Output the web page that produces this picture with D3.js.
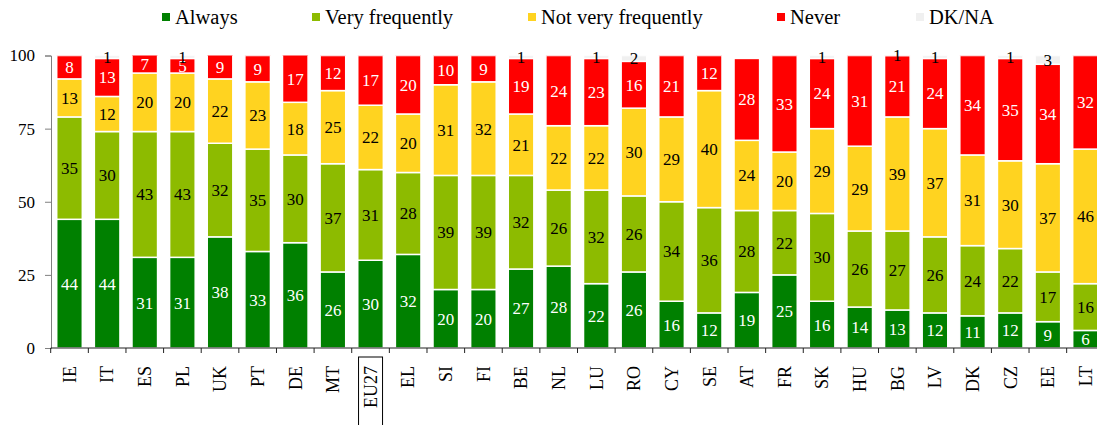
<!DOCTYPE html>
<html>
<head>
<meta charset="utf-8">
<script src="https://cdn.jsdelivr.net/npm/d3@7"></script>
<style>
body { margin: 0; background: #fff; }
svg text { font-family: "Liberation Serif", "DejaVu Serif", serif; }
</style>
</head>
<body>
<svg id="chart" width="1097" height="425"></svg>
<script>
var countries = ['IE', 'IT', 'ES', 'PL', 'UK', 'PT', 'DE', 'MT', 'EU27', 'EL', 'SI', 'FI', 'BE', 'NL',
    'LU', 'RO', 'CY', 'SE', 'AT', 'FR', 'SK', 'HU', 'BG', 'LV', 'DK', 'CZ', 'EE', 'LT'];
var always = [44, 44, 31, 31, 38, 33, 36, 26, 30, 32, 20, 20, 27, 28, 22, 26, 16, 12, 19, 25, 16, 14, 13, 12, 11, 12, 9, 6];
var veryFrequently = [35, 30, 43, 43, 32, 35, 30, 37, 31, 28, 39, 39, 32, 26, 32, 26, 34, 36, 28, 22, 30, 26, 27, 26, 24, 22, 17, 16];
var notVeryFrequently = [13, 12, 20, 20, 22, 23, 18, 25, 22, 20, 31, 32, 21, 22, 22, 30, 29, 40, 24, 20, 29, 29, 39, 37, 31, 30, 37, 46];
var never = [8, 13, 7, 5, 9, 9, 17, 12, 17, 20, 10, 9, 19, 24, 23, 16, 21, 12, 28, 33, 24, 31, 21, 24, 34, 35, 34, 32];
var dkna = [0, 1, 0, 1, 0, 0, 0, 0, 0, 0, 0, 0, 1, 0, 1, 2, 0, 0, 0, 0, 1, 0, 1, 1, 0, 1, 3, 0];
var yTicks = [0, 25, 50, 75, 100];

var series = [
    { key: 'Always', values: always, color: '#008000', text: '#fff' },
    { key: 'Very frequently', values: veryFrequently, color: '#8dbb00', text: '#000' },
    { key: 'Not very frequently', values: notVeryFrequently, color: '#ffd320', text: '#000' },
    { key: 'Never', values: never, color: '#ff0000', text: '#fff' },
    { key: 'DK/NA', values: dkna, color: '#f0f0f0', text: '#000' }
];

var rows = countries.map(function(c, i) {
    var r = { country: c };
    series.forEach(function(s) { r[s.key] = s.values[i]; });
    return r;
});

var svg = d3.select('#chart');

var x = d3.scaleBand()
    .domain(countries)
    .range([50.7, 1104.3])
    .paddingInner(0.32)
    .paddingOuter(0.16);

var y = d3.scaleLinear()
    .domain([0, 100])
    .range([348, 55.5]);

var stack = d3.stack().keys(series.map(function(s) { return s.key; }));
var stacked = stack(rows);

svg.append('defs').append('clipPath').attr('id', 'plotclip')
    .append('rect')
    .attr('x', 0).attr('y', y(100)).attr('width', 1097).attr('height', y(0) - y(100));

var layers = svg.append('g').attr('clip-path', 'url(#plotclip)')
    .selectAll('g.layer')
    .data(stacked)
    .enter().append('g')
    .attr('class', 'layer')
    .attr('fill', function(d, i) { return series[i].color; });

layers.selectAll('rect')
    .data(function(d) { return d; })
    .enter().append('rect')
    .filter(function(d) { return d[1] - d[0] > 0; })
    .attr('x', function(d) { return x(d.data.country); })
    .attr('width', x.bandwidth())
    .attr('y', function(d) { return y(d[1]); })
    .attr('height', function(d) { return y(d[0]) - y(d[1]); })
    .attr('stroke', '#fff')
    .attr('stroke-width', 1.5);

// value labels
stacked.forEach(function(layer, li) {
    svg.append('g').selectAll('text')
        .data(layer.filter(function(d) { return d[1] - d[0] > 0; }))
        .enter().append('text')
        .attr('x', function(d) { return x(d.data.country) + x.bandwidth() / 2; })
        .attr('y', function(d) { return y((d[0] + Math.min(d[1], 100)) / 2); })
        .attr('dy', '0.35em')
        .attr('text-anchor', 'middle')
        .attr('font-size', 17)
        .attr('fill', series[li].text)
        .text(function(d) { return d[1] - d[0]; });
});

// y axis
var yAxis = svg.append('g')
    .attr('transform', 'translate(51,0)')
    .call(d3.axisLeft(y).tickValues(yTicks).tickSize(6).tickPadding(10));
yAxis.select('.domain').attr('stroke', '#808080');
yAxis.selectAll('.tick line').attr('stroke', '#808080');
yAxis.selectAll('.tick text')
    .attr('font-family', '"Liberation Serif", serif')
    .attr('font-size', 17)
    .attr('fill', '#000');

// x axis line and boundary ticks
var x0 = x.range()[0];
svg.append('line')
    .attr('x1', x0).attr('x2', 1097)
    .attr('y1', y(0)).attr('y2', y(0))
    .attr('stroke', '#222').attr('stroke-width', 1.2);
svg.append('g').selectAll('line')
    .data(d3.range(countries.length + 1))
    .enter().append('line')
    .attr('x1', function(i) { return x0 + i * x.step(); })
    .attr('x2', function(i) { return x0 + i * x.step(); })
    .attr('y1', y(0)).attr('y2', y(0) + 5)
    .attr('stroke', '#222');

// country labels
var xl = svg.append('g').selectAll('g')
    .data(countries)
    .enter().append('g')
    .attr('transform', function(d) {
        return 'translate(' + (x(d) + x.bandwidth() / 2) + ',366) rotate(-90)';
    });
xl.append('text')
    .attr('text-anchor', 'end')
    .attr('dy', '0.35em')
    .attr('font-size', 18)
    .attr('fill', '#000')
    .text(function(d) { return d; });

// box round EU27
svg.append('rect')
    .attr('x', x('EU27') + x.bandwidth() / 2 - 12)
    .attr('y', 357)
    .attr('width', 24)
    .attr('height', 80)
    .attr('fill', 'none')
    .attr('stroke', '#000')
    .attr('stroke-width', 1);

// legend
var legendX = [162, 312, 528, 777, 916];
var legend = svg.append('g').selectAll('g')
    .data(series)
    .enter().append('g')
    .attr('transform', function(d, i) { return 'translate(' + legendX[i] + ',13)'; });
legend.append('rect')
    .attr('width', 8).attr('height', 8)
    .attr('fill', function(d) { return d.color; });
legend.append('text')
    .attr('x', 13)
    .attr('y', 11)
    .attr('font-size', 20.5)
    .attr('fill', '#000')
    .text(function(d) { return d.key; });
</script>
</body>
</html>
